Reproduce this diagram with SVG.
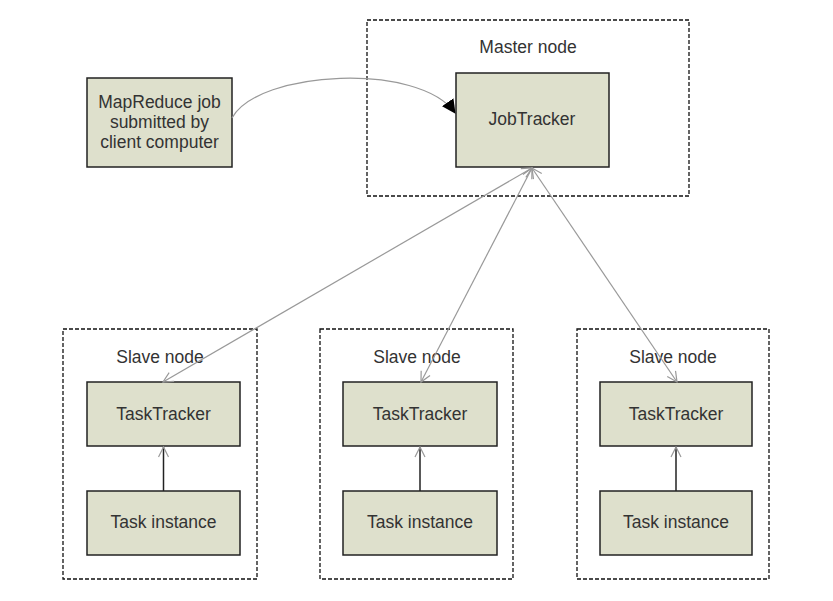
<svg xmlns="http://www.w3.org/2000/svg" width="833" height="601" viewBox="0 0 833 601">
<defs>
<style>
.grp{fill:none;stroke:#111;stroke-width:1.3;stroke-dasharray:4 2}
.box{fill:#dee0cc;stroke:#222;stroke-width:1.5}
.t{font-family:"Liberation Sans",Arial,sans-serif;font-size:17.5px;fill:#333;text-anchor:middle}
.gl{fill:none;stroke:#999;stroke-width:1.2}
.bl{fill:none;stroke:#222;stroke-width:1.5}
</style>
<marker id="open" viewBox="0 0 12 12" refX="11" refY="6" markerWidth="12" markerHeight="12" markerUnits="userSpaceOnUse" orient="auto-start-reverse">
<path d="M1,1 L11,6 L1,11" fill="none" stroke="#999" stroke-width="1.2"/>
</marker>
<marker id="fill" viewBox="0 0 14 14" refX="13" refY="7" markerWidth="14" markerHeight="14" markerUnits="userSpaceOnUse" orient="auto">
<path d="M0,0 L14,7 L0,14 Z" fill="#000"/>
</marker>
</defs>
<rect width="833" height="601" fill="#fff"/>
<g id="client">
<rect class="box" x="87" y="78" width="145" height="89"/>
<text class="t" x="159.5" y="108">MapReduce job</text>
<text class="t" x="159.5" y="128">submitted by</text>
<text class="t" x="159.5" y="148">client computer</text>
</g>
<g id="master">
<rect class="grp" x="367" y="20" width="322" height="176"/>
<text class="t" x="528" y="53">Master node</text>
<rect class="box" x="456" y="73" width="153" height="94"/>
<text class="t" x="532" y="125">JobTracker</text>
</g>
<g id="slave1">
<rect class="grp" x="63" y="329" width="194" height="250"/>
<text class="t" x="160" y="363">Slave node</text>
<rect class="box" x="87" y="382" width="153" height="64"/>
<text class="t" x="163.5" y="420">TaskTracker</text>
<rect class="box" x="87" y="491" width="153" height="64"/>
<text class="t" x="163.5" y="528">Task instance</text>
</g>
<g id="slave2">
<rect class="grp" x="320" y="329" width="193" height="250"/>
<text class="t" x="417" y="363">Slave node</text>
<rect class="box" x="343" y="382" width="154" height="64"/>
<text class="t" x="420" y="420">TaskTracker</text>
<rect class="box" x="343" y="491" width="154" height="64"/>
<text class="t" x="420" y="528">Task instance</text>
</g>
<g id="slave3">
<rect class="grp" x="577" y="329" width="192" height="250"/>
<text class="t" x="673" y="363">Slave node</text>
<rect class="box" x="600" y="382" width="152" height="64"/>
<text class="t" x="676" y="420">TaskTracker</text>
<rect class="box" x="600" y="491" width="152" height="64"/>
<text class="t" x="676" y="528">Task instance</text>
</g>
<g id="connectors">
<path class="gl" d="M232,118 C258,70 420,62 455,113" marker-end="url(#fill)"/>
<line class="gl" x1="532" y1="168" x2="163" y2="382" marker-start="url(#open)" marker-end="url(#open)"/>
<line class="gl" x1="532" y1="168" x2="421" y2="382" marker-start="url(#open)" marker-end="url(#open)"/>
<line class="gl" x1="532" y1="168" x2="677" y2="382" marker-start="url(#open)" marker-end="url(#open)"/>
<line class="bl" x1="163.5" y1="491" x2="163.5" y2="447" marker-end="url(#open)"/>
<line class="bl" x1="420" y1="491" x2="420" y2="447" marker-end="url(#open)"/>
<line class="bl" x1="676" y1="491" x2="676" y2="447" marker-end="url(#open)"/>
</g>
</svg>
